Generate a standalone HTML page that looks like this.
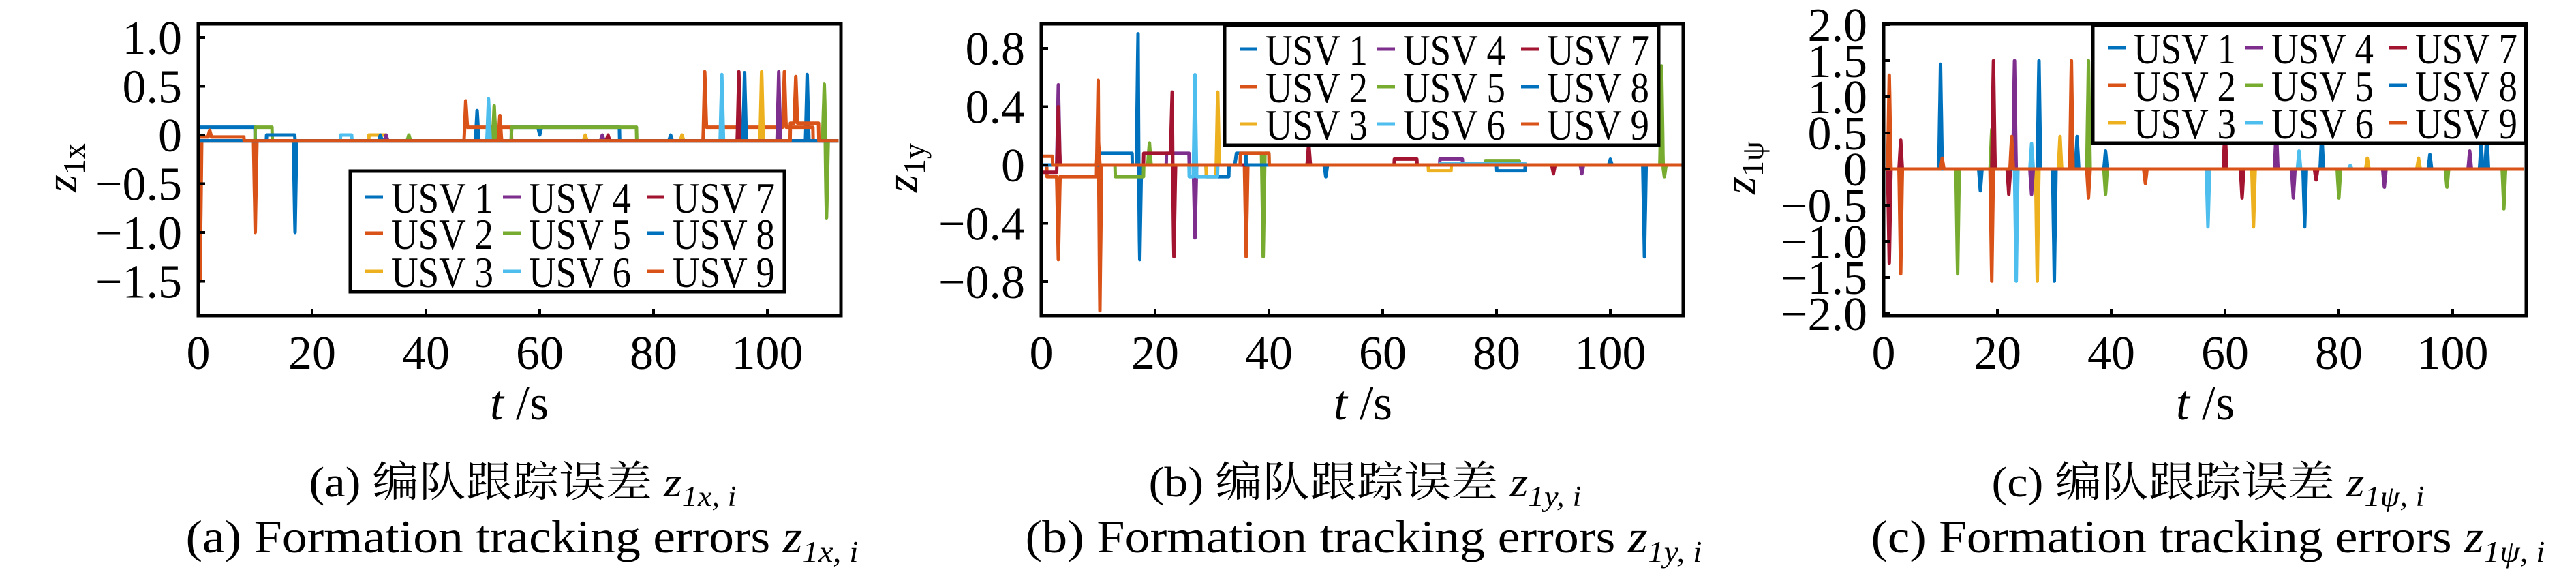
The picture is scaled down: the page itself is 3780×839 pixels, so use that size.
<!DOCTYPE html>
<html><head><meta charset="utf-8"><style>
html,body{margin:0;padding:0;background:#fff;}
svg{display:block;}
text{font-family:"Liberation Serif","Noto Serif CJK SC",serif;fill:#000;}
</style></head><body>
<svg id="s" width="3780" height="839" viewBox="0 0 3780 839" xmlns="http://www.w3.org/2000/svg">
<defs>
<clipPath id="ca"><rect x="291" y="35" width="943" height="428"/></clipPath>
<clipPath id="cb"><rect x="1528" y="35" width="942" height="428"/></clipPath>
<clipPath id="cc"><rect x="2764" y="35" width="943" height="428"/></clipPath>
</defs>
<g id="ga" clip-path="url(#ca)"></g>
<g id="gb" clip-path="url(#cb)"></g>
<g id="gc" clip-path="url(#cc)"></g>
<g id="fg"></g>
</svg>
<script>
const C=['#0072BD','#D95319','#EDB120','#7E2F8E','#77AC30','#4DBEEE','#A2142F','#0072BD','#D95319'];
const NS='http://www.w3.org/2000/svg';
function el(p,tag,a,txt){const e=document.createElementNS(NS,tag);for(const k in a)e.setAttribute(k,a[k]);if(txt!==undefined)e.textContent=txt;p.appendChild(e);return e;}
function series(base,pulses,spikes,tend){
  const pts=[];
  for(let t=0;t<=tend;t+=0.05){
    let v=base;
    for(const p of pulses){ if(t>=p[0]&&t<=p[1]) v=p[2]; }
    for(const s of spikes){ const d=Math.abs(t-s[0]); if(d<0.3){ v=v+(s[1]-v)*(1-d/0.3);} }
    pts.push([t,v]);
  }
  return pts;
}
function draw(gid,X,Y,all){
  const g=document.getElementById(gid);
  all.forEach((s,i)=>{
    const d=s.map(p=>X(p[0]).toFixed(1)+','+Y(p[1]).toFixed(1)).join(' ');
    el(g,'polyline',{points:d,fill:'none',stroke:C[i],'stroke-width':5,'stroke-linejoin':'round'});
  });
}
// Panel a
{
const X=t=>291+t*8.35, Y=v=>198-v*143;
const b=-0.06,h=0.08;
const S=[
 series(b,[[0,10,h],[55,74,h]],[[17,-1.0],[49,0.25],[60,0.0],[107,0.62]],112.5),
 series(b,[[47,55,h],[89,108,h]],[[0,-1.5],[0.3,-1.5],[10,-1.0],[47,0.35],[89,0.65],[103,0.65]],112.5),
 series(b,[[30,33,0.0]],[[31,0.0],[68,0.0],[99,0.65],[85,0.0]],112.5),
 series(b,[],[[33,0.0],[71,0.0],[102,0.65]],112.5),
 series(b,[[10,13,h],[55,77,h]],[[37,0.0],[52,0.3],[110,0.52],[110.4,-0.85]],112.5),
 series(b,[[25,27,-0.0]],[[26,0.0],[51,0.37],[92,0.62]],112.5),
 series(b,[],[[72,0.0],[95,0.65]],112.5),
 series(b,[[12,17,-0.0]],[[32,0.0],[83,0.0],[96,0.64]],112.5),
 series(b,[[0,8,-0.02],[104,109,0.12]],[[2,0.05],[53,0.2],[105,0.6]],112.5)
];
draw('ga',X,Y,S);
}
// Panel b
{
const X=t=>1528+t*8.35, Y=v=>242-v*213.75;
const h=0.08;
const S=[
 series(0,[[10,16,h],[29,33,-h]],[[17,0.9],[17.3,-0.65],[50,-0.08],[106,-0.63],[100,0.04]],112.5),
 series(0,[[1,10,-h]],[[3,-0.65],[10,0.58],[10.3,-1.0],[36,-0.63]],112.5),
 series(0,[[29,31,-h],[68,72,-0.04]],[[31,0.5]],112.5),
 series(0,[[22,26,h],[70,74,0.04]],[[3,0.55],[27,-0.5],[95,-0.06]],112.5),
 series(0,[[13,18,-h],[36,40,h],[78,84,0.03]],[[19,0.15],[39,-0.63],[109,0.68],[109.5,-0.08]],112.5),
 series(0,[[26,31,-h],[70,85,0.01]],[[27,0.62]],112.5),
 series(0,[[0,3,-0.05],[18,23,h],[62,66,0.04]],[[3,0.4],[23,0.5],[23.3,-0.63],[47,0.15],[90,-0.06]],112.5),
 series(0,[[34,36,h],[80,85,-0.04]],[[34,0.0]],112.5),
 series(0,[[0,2,0.06],[35,40,h]],[[10,0.2]],112.5)
];
draw('gb',X,Y,S);
}
// Panel c
{
const X=t=>2764+t*8.35, Y=v=>248-v*106;
const S=[
 series(0,[],[[10,1.45],[17,-0.3],[30,-1.55],[34,0.45],[39,0.25],[77,0.5],[106,0.5]],112.5),
 series(0,[],[[1,1.3],[3,-1.45],[19,-1.55],[33,1.5],[36,-0.4],[46,-0.2]],112.5),
 series(0,[],[[27,-1.55],[31,0.45],[65,-0.8],[85,0.15],[94,0.15]],112.5),
 series(0,[],[[23,1.5],[26,-0.35],[69,0.6],[72,-0.4],[88,-0.25],[103,0.25]],112.5),
 series(0,[],[[13,-1.45],[19,0.55],[36,1.5],[39,-0.35],[80,-0.4],[99,-0.25],[109,-0.55]],112.5),
 series(0,[],[[26,0.35],[23.3,-1.55],[57,-0.8],[73,0.25],[82,0.05]],112.5),
 series(0,[],[[1,-1.3],[3,0.4],[19.3,1.5],[22,-0.35],[60,0.6],[63,-0.4],[76,-0.15]],112.5),
 series(0,[],[[27.3,1.5],[74,-0.8],[96,0.2],[105,0.35]],112.5),
 series(0,[],[[22.5,0.45],[10.3,0.15]],112.5)
];
draw('gc',X,Y,S);
}
const fg=document.getElementById('fg');
function frame(x0,y0,x1,y1,xt,yt,ymap,xmap){
  el(fg,'rect',{x:x0,y:y0,width:x1-x0,height:y1-y0,fill:'none',stroke:'#000','stroke-width':5});
  xt.forEach(t=>{const x=xmap(t);el(fg,'line',{x1:x,y1:y1,x2:x,y2:y1-10,stroke:'#000','stroke-width':4});
    el(fg,'text',{x:x,y:y1+78,'font-size':70,'text-anchor':'middle'},String(t));});
  yt.forEach(([v,lab])=>{const y=ymap(v);el(fg,'line',{x1:x0,y1:y,x2:x0+10,y2:y,stroke:'#000','stroke-width':4});
    el(fg,'text',{x:x0-24,y:y+24,'font-size':70,'text-anchor':'end'},lab);});
}
function legend(x,y,w,h,rows){
  el(fg,'rect',{x:x,y:y,width:w,height:h,fill:'#fff',stroke:'#000','stroke-width':5});
  const colx=[x+22,x+224,x+435];
  for(let r=0;r<3;r++)for(let c=0;c<3;c++){
    const i=c*3+r; const cy=rows[r];
    el(fg,'line',{x1:colx[c],y1:cy,x2:colx[c]+26,y2:cy,stroke:C[i],'stroke-width':5});
    el(fg,'text',{x:colx[c]+38,y:cy+23,'font-size':64,textLength:150,lengthAdjust:'spacingAndGlyphs'},'USV '+(i+1));
  }
}
function ylabel(x,y,sub){
  const t=el(fg,'text',{transform:`translate(${x},${y}) rotate(-90)`,'font-size':66,'text-anchor':'middle'});
  el(t,'tspan',{'font-style':'italic'},'z');
  el(t,'tspan',{'font-size':46,dy:12},sub);
}
function xlabel(x,y){
  const t=el(fg,'text',{x:x,y:y,'font-size':72,'text-anchor':'middle'});
  el(t,'tspan',{'font-style':'italic'},'t');
  el(t,'tspan',{},' /s');
}
function captions(cx1,cx2,letter,sub,w1,w2){
  const t1=el(fg,'text',{x:cx1,y:728,'font-size':62,'text-anchor':'middle',textLength:w1,lengthAdjust:'spacingAndGlyphs'});
  el(t1,'tspan',{},'('+letter+') 编队跟踪误差 ');
  el(t1,'tspan',{'font-style':'italic'},'z');
  el(t1,'tspan',{'font-size':42,dy:14,'font-style':'italic'},sub);
  const t2=el(fg,'text',{x:cx2,y:810,'font-size':68,'text-anchor':'middle',textLength:w2,lengthAdjust:'spacingAndGlyphs'});
  el(t2,'tspan',{},'('+letter+') Formation tracking errors ');
  el(t2,'tspan',{'font-style':'italic'},'z');
  el(t2,'tspan',{'font-size':44,dy:14,'font-style':'italic'},sub);
}
frame(291,35,1234,463,[0,20,40,60,80,100],[[1,'1.0'],[0.5,'0.5'],[0,'0'],[-0.5,'−0.5'],[-1,'−1.0'],[-1.5,'−1.5']],v=>198-v*143,t=>291+t*8.35);
legend(514,251,637,177,[289,342,398]);
ylabel(112,246,'1x'); xlabel(762,615);
captions(767,766,'a','1x, i',627,987);
frame(1528,35,2470,463,[0,20,40,60,80,100],[[0.8,'0.8'],[0.4,'0.4'],[0,'0'],[-0.4,'−0.4'],[-0.8,'−0.8']],v=>242-v*213.75,t=>1528+t*8.35);
legend(1797,37,637,176,[72,127,182]);
ylabel(1345,246,'1y'); xlabel(2000,615);
captions(2003,2001,'b','1y, i',635,993);
frame(2764,35,3707,463,[0,20,40,60,80,100],[[2,'2.0'],[1.5,'1.5'],[1,'1.0'],[0.5,'0.5'],[0,'0'],[-0.5,'−0.5'],[-1,'−1.0'],[-1.5,'−1.5'],[-2,'−2.0']],v=>248-v*106,t=>2764+t*8.35);
legend(3071,37,635,173,[70,125,180]);
ylabel(2575,246,'1ψ'); xlabel(3236,615);
captions(3240,3240,'c','1ψ, i',635,989);
</script>
</body></html>
